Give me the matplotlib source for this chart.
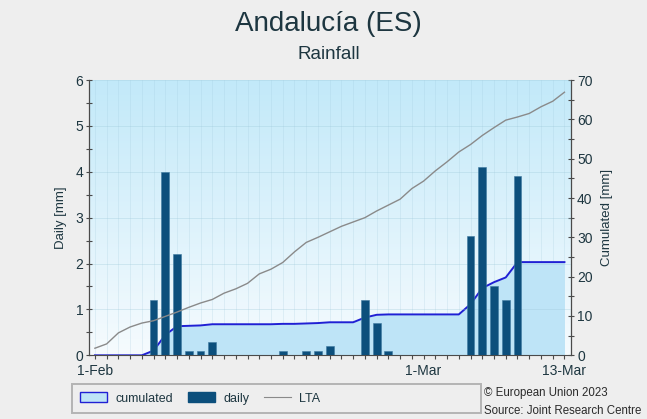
import numpy as np
import matplotlib
matplotlib.use('Agg')
import matplotlib.pyplot as plt
from matplotlib.colors import LinearSegmentedColormap
from matplotlib.patches import Patch, Rectangle
from matplotlib.lines import Line2D

plt.rcParams['font.family'] = ['Liberation Sans', 'DejaVu Sans']

# day index 0 = 1-Feb-2023 ... 40 = 13-Mar-2023
days = list(range(41))
tick_days = [0, 28, 40]
tick_labels = ['1-Feb', '1-Mar', '13-Mar']

daily = [0, 0, 0, 0, 0, 1.2, 4.0, 2.2, 0.1, 0.1,
         0.3, 0, 0, 0, 0, 0, 0.1, 0, 0.1, 0.1,
         0.2, 0, 0, 1.2, 0.7, 0.1, 0, 0, 0, 0,
         0, 0, 2.6, 4.1, 1.5, 1.2, 3.9, 0, 0, 0, 0]

cumulated = [0, 0, 0, 0, 0, 1.2, 5.2, 7.4, 7.5, 7.6,
             7.9, 7.9, 7.9, 7.9, 7.9, 7.9, 8.0, 8.0, 8.1, 8.2,
             8.4, 8.4, 8.4, 9.6, 10.3, 10.4, 10.4, 10.4, 10.4, 10.4,
             10.4, 10.4, 13.0, 17.1, 18.6, 19.8, 23.7, 23.7, 23.7, 23.7, 23.7]

lta = [1.8, 2.9, 5.7, 7.2, 8.2, 8.8, 9.9, 11.0, 12.2, 13.3,
       14.2, 15.8, 16.9, 18.3, 20.7, 21.9, 23.6, 26.3, 28.7, 30.0,
       31.4, 32.8, 33.9, 35.0, 36.7, 38.2, 39.7, 42.4, 44.3, 46.9,
       49.2, 51.7, 53.6, 55.9, 57.9, 59.8, 60.6, 61.5, 63.2, 64.6, 66.9]

BG = '#eeeeee'
TXT = '#1d3640'
AXC = '#4a4a4a'
BAR = '#0c4f7c'
CUM_FILL = '#bee4f7'
CUM_LINE = '#2020d4'

fig = plt.figure(figsize=(6.47, 4.19), dpi=100, facecolor=BG)
pos = [0.1376, 0.152, 0.7457, 0.657]
xlim = (-0.5, 40.6)

# daily axis (left), drawn above the cumulated one
ax_d = fig.add_axes(pos)
ax_c = ax_d.twinx()
ax_d.set_zorder(2)
ax_d.patch.set_visible(False)
ax_c.set_zorder(1)

# background gradient
grad = LinearSegmentedColormap.from_list('bg', ['#f6fbfe', '#c2e9f9'])
ax_c.imshow(np.linspace(0, 1, 256).reshape(-1, 1), cmap=grad, origin='lower',
            extent=[xlim[0], xlim[1], 0, 70], aspect='auto', zorder=0)

# faint grid
for d in days:
    ax_c.axvline(d, color='#9cc6d8', lw=0.5, alpha=0.3, zorder=0.5)
ax_d.set_axisbelow(True)
ax_d.yaxis.grid(True, color='#9cc6d8', lw=0.5, alpha=0.45)

# cumulated
ax_c.fill_between(days, cumulated, 0, color=CUM_FILL, lw=0, zorder=1)
ax_c.plot(days, cumulated, color=CUM_LINE, lw=1.4, zorder=2)

# daily bars
ax_d.bar(days, daily, width=0.66, color=BAR, edgecolor='#3f7aa0', linewidth=0.4, zorder=3)

# LTA on top
ax_l = ax_d.twinx()
ax_l.set_zorder(3)
ax_l.plot(days, lta, color='#8a8a8a', lw=1.0)
ax_l.set_ylim(0, 70)
ax_l.axis('off')

for a in (ax_d, ax_c, ax_l):
    a.set_xlim(*xlim)
ax_d.set_ylim(0, 6)
ax_c.set_ylim(0, 70)

# ticks
ax_d.set_xticks(tick_days)
ax_d.set_xticklabels(tick_labels)
ax_d.set_xticks(days, minor=True)
ax_d.tick_params(axis='x', which='both', direction='out', length=3, width=0.8,
                 color=AXC, labelsize=10, labelcolor=TXT, pad=3)
ax_d.set_yticks(range(7))
ax_d.set_yticks(np.arange(0, 6.01, 0.5), minor=True)
ax_d.tick_params(axis='y', which='both', direction='inout', length=4, width=0.8,
                 color=AXC, labelsize=10, labelcolor=TXT, pad=2)
ax_c.set_yticks(range(0, 71, 10))
ax_c.set_yticks(range(0, 71, 5), minor=True)
ax_c.tick_params(axis='y', which='both', direction='inout', length=4, width=0.8,
                 color=AXC, labelsize=10, labelcolor=TXT, pad=2)

for s in ('top', 'right'):
    ax_d.spines[s].set_visible(False)
for s in ('top', 'left', 'bottom'):
    ax_c.spines[s].set_visible(False)
ax_d.spines['left'].set_color(AXC)
ax_d.spines['bottom'].set_color(AXC)
ax_c.spines['right'].set_color(AXC)
ax_d.spines['left'].set_linewidth(0.9)
ax_d.spines['bottom'].set_linewidth(0.8)
ax_c.spines['right'].set_linewidth(0.9)

# titles and axis labels
fig.text(0.508, 0.942, 'Andalucía (ES)', ha='center', va='center', fontsize=20, color=TXT)
fig.text(0.508, 0.871, 'Rainfall', ha='center', va='center', fontsize=13.5, color=TXT)
fig.text(0.094, 0.48, 'Daily [mm]', rotation=90, ha='center', va='center', fontsize=9.5, color=TXT)
fig.text(0.938, 0.48, 'Cumulated [mm]', rotation=90, ha='center', va='center', fontsize=9.5, color=TXT)

# legend box
fig.patches.append(Rectangle((0.111, 0.014), 0.632, 0.069, transform=fig.transFigure,
                             facecolor=BG, edgecolor='#b4b4b4', lw=1.4, zorder=0))
handles = [Patch(facecolor=CUM_FILL, edgecolor=CUM_LINE, lw=1.0),
           Patch(facecolor=BAR, edgecolor=BAR),
           Line2D([], [], color='#8a8a8a', lw=0.8)]
fig.legend(handles, ['cumulated', 'daily', 'LTA'], loc='center left',
           bbox_to_anchor=(0.107, 0.049), ncol=3, frameon=False, fontsize=9,
           handlelength=2.15, handleheight=0.8, columnspacing=1.2, handletextpad=0.65,
           labelcolor=TXT)

fig.text(0.748, 0.062, '© European Union 2023', ha='left', va='center', fontsize=8.3, color='#2a2a2a')
fig.text(0.748, 0.019, 'Source: Joint Research Centre', ha='left', va='center', fontsize=8.3, color='#2a2a2a')

fig.savefig('out.png', dpi=100, facecolor=BG)
